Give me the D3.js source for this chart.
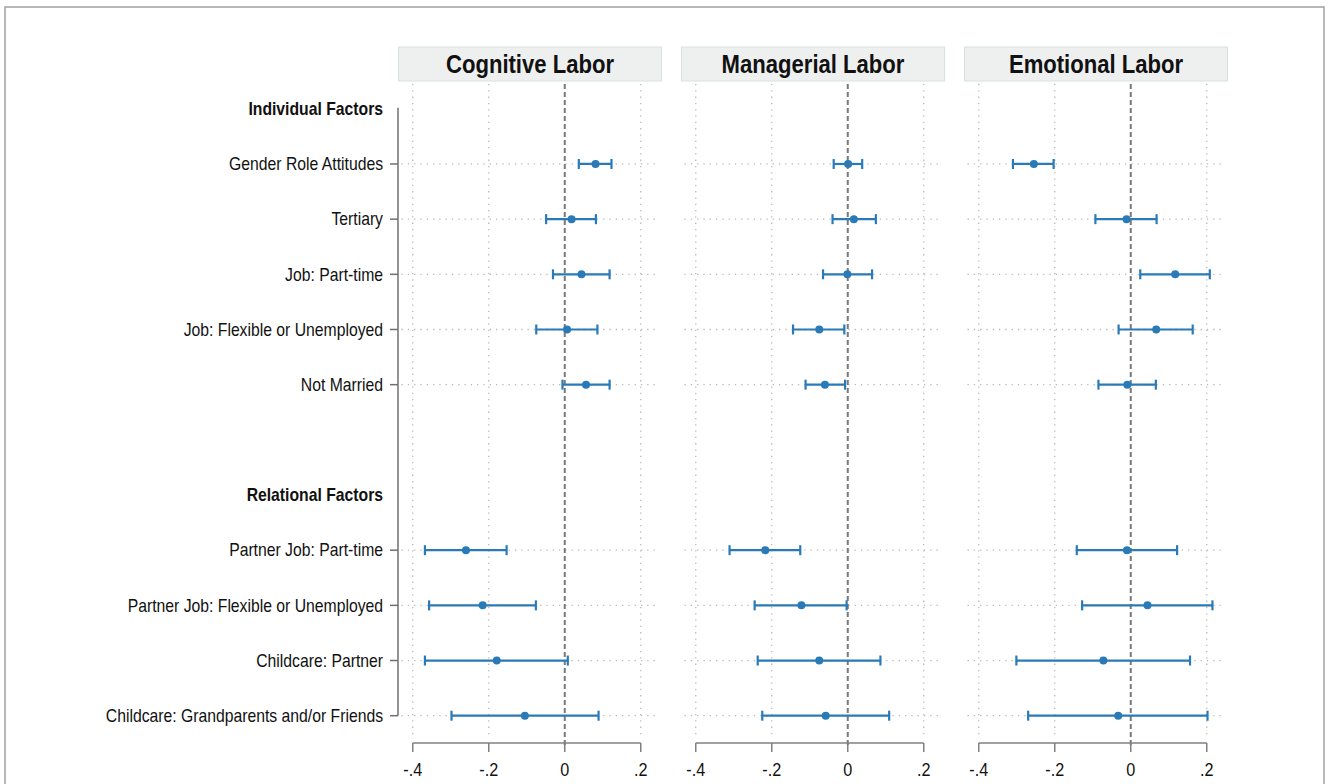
<!DOCTYPE html>
<html>
<head>
<meta charset="utf-8">
<script src="https://cdn.jsdelivr.net/npm/d3@7"></script>
<style>
  body { margin: 0; background: #fff; }
  text { font-family: "Liberation Sans", Arial, sans-serif; fill: #111; }
</style>
</head>
<body>
<div id="chart"></div>
<script>
// row layout of the y axis (headings + blank spacer included)
var rowKeys = ["Individual Factors", "Gender Role Attitudes", "Tertiary", "Job: Part-time",
  "Job: Flexible or Unemployed", "Not Married", "_gap", "Relational Factors",
  "Partner Job: Part-time", "Partner Job: Flexible or Unemployed", "Childcare: Partner",
  "Childcare: Grandparents and/or Friends"];
var headings = ["Individual Factors", "Relational Factors"];
var coefNames = ["Gender Role Attitudes", "Tertiary", "Job: Part-time", "Job: Flexible or Unemployed",
  "Not Married", "Partner Job: Part-time", "Partner Job: Flexible or Unemployed",
  "Childcare: Partner", "Childcare: Grandparents and/or Friends"];

var panelTitles = ["Cognitive Labor", "Managerial Labor", "Emotional Labor"];

// estimates and 95% CI, same order as coefNames
var cognitiveEst = [0.081, 0.018, 0.044, 0.006, 0.056, -0.260, -0.216, -0.179, -0.105];
var cognitiveLo  = [0.037, -0.049, -0.031, -0.075, -0.006, -0.368, -0.357, -0.368, -0.298];
var cognitiveHi  = [0.123, 0.082, 0.118, 0.086, 0.118, -0.153, -0.076, 0.008, 0.089];

var managerialEst = [0.001, 0.016, -0.001, -0.075, -0.060, -0.217, -0.122, -0.075, -0.058];
var managerialLo  = [-0.037, -0.040, -0.065, -0.144, -0.111, -0.311, -0.245, -0.237, -0.225];
var managerialHi  = [0.038, 0.074, 0.064, -0.009, -0.007, -0.125, -0.003, 0.086, 0.109];

var emotionalEst = [-0.255, -0.011, 0.117, 0.067, -0.009, -0.010, 0.044, -0.072, -0.033];
var emotionalLo  = [-0.310, -0.093, 0.025, -0.032, -0.085, -0.142, -0.128, -0.301, -0.270];
var emotionalHi  = [-0.203, 0.068, 0.208, 0.163, 0.066, 0.122, 0.215, 0.156, 0.202];

var xTicks = [-0.4, -0.2, 0, 0.2];
var xTickLabels = ["-.4", "-.2", "0", ".2"];

var svgWidth = 1328, svgHeight = 784;
var blue = "#2a7ab8";
var narrow = 0.88;   // squeeze text to look like Arial Narrow

var panelData = [
  [cognitiveEst, cognitiveLo, cognitiveHi],
  [managerialEst, managerialLo, managerialHi],
  [emotionalEst, emotionalLo, emotionalHi]
].map(function(s) {
  return coefNames.map(function(name, i) {
    return { name: name, est: s[0][i], lo: s[1][i], hi: s[2][i] };
  });
});

function place(x, y, sx) {
  return "translate(" + x + "," + y + ") scale(" + sx + ",1)";
}

var svg = d3.select("#chart").append("svg")
  .attr("width", svgWidth)
  .attr("height", svgHeight);

// outer frame
svg.append("rect")
  .attr("x", 5).attr("y", 7)
  .attr("width", 1319).attr("height", 800)
  .attr("fill", "none")
  .attr("stroke", "#a0a0a0")
  .attr("stroke-width", 1.5);

var plotTop = 84, plotBottom = 740;
var yScale = d3.scalePoint()
  .domain(rowKeys)
  .range([108.8, 715.7]);

// left axis with labels
var yAxisG = svg.append("g");
yAxisG.append("line")
  .attr("x1", 398).attr("x2", 398)
  .attr("y1", yScale(rowKeys[0]) - 1).attr("y2", yScale(rowKeys[rowKeys.length - 1]))
  .attr("stroke", "#707070").attr("stroke-width", 1.5);

var rowLabels = rowKeys.filter(function(k) { return k !== "_gap"; });
yAxisG.selectAll("line.tick")
  .data(coefNames)
  .enter().append("line")
  .attr("class", "tick")
  .attr("x1", 390).attr("x2", 398)
  .attr("y1", function(d) { return yScale(d); })
  .attr("y2", function(d) { return yScale(d); })
  .attr("stroke", "#707070").attr("stroke-width", 1.5);

yAxisG.selectAll("text")
  .data(rowLabels)
  .enter().append("text")
  .attr("transform", function(d) { return place(383, yScale(d), 0.9); })
  .attr("dy", "0.36em")
  .attr("text-anchor", "end")
  .attr("font-size", 17.5)
  .attr("font-weight", function(d) { return headings.indexOf(d) >= 0 ? "bold" : "normal"; })
  .text(function(d) { return d; });

var panelWidth = 263, panelGap = 20, firstLeft = 398.5;

panelTitles.forEach(function(title, p) {
  var left = firstLeft + p * (panelWidth + panelGap);
  var x = d3.scaleLinear()
    .domain([-0.4375, 0.2546])
    .range([left, left + panelWidth]);

  var g = svg.append("g");

  // strip header
  g.append("rect")
    .attr("x", left).attr("y", 47)
    .attr("width", panelWidth).attr("height", 34)
    .attr("fill", "#eef0f0")
    .attr("stroke", "#d8e2e2");
  g.append("text")
    .attr("transform", place(left + panelWidth / 2, 64, 0.85))
    .attr("dy", "0.36em")
    .attr("text-anchor", "middle")
    .attr("font-size", 26)
    .attr("font-weight", "bold")
    .text(title);

  // vertical grid
  g.selectAll("line.vgrid")
    .data(xTicks.filter(function(t) { return t !== 0; }))
    .enter().append("line")
    .attr("x1", function(d) { return x(d); })
    .attr("x2", function(d) { return x(d); })
    .attr("y1", plotTop).attr("y2", plotBottom - 3)
    .attr("stroke", "#b8b8b8")
    .attr("stroke-width", 1.3)
    .attr("stroke-dasharray", "1.3,5");

  // horizontal grid at each coefficient
  g.selectAll("line.hgrid")
    .data(coefNames)
    .enter().append("line")
    .attr("x1", left + 3).attr("x2", left + panelWidth - 2)
    .attr("y1", function(d) { return yScale(d); })
    .attr("y2", function(d) { return yScale(d); })
    .attr("stroke", "#b8b8b8")
    .attr("stroke-width", 1.3)
    .attr("stroke-dasharray", "1.3,5");

  // zero reference line
  g.append("line")
    .attr("x1", x(0)).attr("x2", x(0))
    .attr("y1", plotTop).attr("y2", 748)
    .attr("stroke", "#7a7a7a")
    .attr("stroke-width", 2)
    .attr("stroke-dasharray", "5,3");

  // bottom axis
  var axisY = 743;
  g.append("line")
    .attr("x1", x(xTicks[0])).attr("x2", x(xTicks[xTicks.length - 1]))
    .attr("y1", axisY).attr("y2", axisY)
    .attr("stroke", "#808080").attr("stroke-width", 1.5);
  g.selectAll("line.xtick")
    .data(xTicks)
    .enter().append("line")
    .attr("x1", function(d) { return x(d); })
    .attr("x2", function(d) { return x(d); })
    .attr("y1", axisY).attr("y2", axisY + 9)
    .attr("stroke", "#808080").attr("stroke-width", 1.5);
  g.selectAll("text.xlab")
    .data(xTicks)
    .enter().append("text")
    .attr("transform", function(d) { return place(x(d), 770, 0.9); })
    .attr("dy", "0.36em")
    .attr("text-anchor", "middle")
    .attr("font-size", 18)
    .text(function(d, i) { return xTickLabels[i]; });

  // confidence intervals
  var pts = g.selectAll("g.coef")
    .data(panelData[p])
    .enter().append("g");
  pts.append("line")
    .attr("x1", function(d) { return x(d.lo); })
    .attr("x2", function(d) { return x(d.hi); })
    .attr("y1", function(d) { return yScale(d.name); })
    .attr("y2", function(d) { return yScale(d.name); })
    .attr("stroke", blue).attr("stroke-width", 2.2);
  ["lo", "hi"].forEach(function(k) {
    pts.append("line")
      .attr("x1", function(d) { return x(d[k]); })
      .attr("x2", function(d) { return x(d[k]); })
      .attr("y1", function(d) { return yScale(d.name) - 5; })
      .attr("y2", function(d) { return yScale(d.name) + 5; })
      .attr("stroke", blue).attr("stroke-width", 2.2);
  });
  pts.append("circle")
    .attr("cx", function(d) { return x(d.est); })
    .attr("cy", function(d) { return yScale(d.name); })
    .attr("r", 4)
    .attr("fill", blue);
});
</script>
</body>
</html>
